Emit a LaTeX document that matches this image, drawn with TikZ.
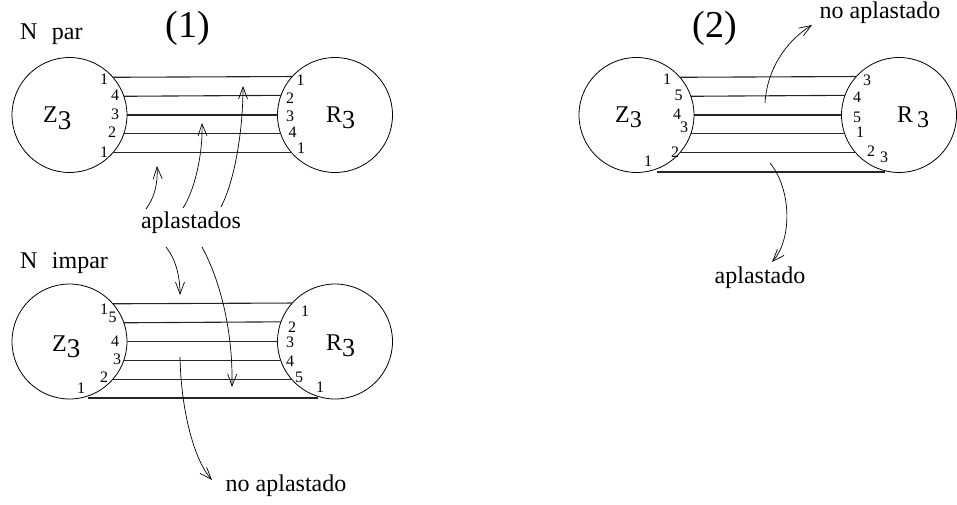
\documentclass[tikz,border=0pt]{standalone}
\usepackage{fontspec}
\setmainfont{Liberation Serif}
\usetikzlibrary{arrows.meta,calc}

\tikzset{
  rueda/.style={circle,draw,line width=0.8pt,minimum size=115pt,inner sep=0pt,outer sep=0pt},
  cuerda/.style={line width=1.1pt,black!85},
  num/.style={font=\fontsize{16}{16}\selectfont,inner sep=0pt},
  rotulo/.style={font=\fontsize{24}{24}\selectfont,inner sep=0pt,anchor=base},
  flecha/.style={-{Straight Barb[length=12pt,width=9pt]},line width=0.7pt},
}
\newcommand{\indice}[2]{\raisebox{-#1pt}{\fontsize{#2}{#2}\selectfont 3}}

\begin{document}
\begin{tikzpicture}[x=1pt,y=-1pt]
  \useasboundingbox (0,0) rectangle (957,505);
  % las tres parejas de ruedas
  \node[rueda] (Za) at (69.5,115) {};
  \node[rueda] (Ra) at (335,115) {};
  \node[rueda] (Zb) at (69.5,341.5) {};
  \node[rueda] (Rb) at (335,341.5) {};
  \node[rueda] (Zc) at (636.5,115) {};
  \node[rueda] (Rc) at (899,115) {};
  \node[rotulo,anchor=base west] (za) at (43,123) {Z\indice{7}{27}};
  \node[rotulo,anchor=base west] (ra) at (326,123) {R\indice{6}{26}};
  \node[rotulo,anchor=base west] (zb) at (52,351) {Z\indice{6}{27}};
  \node[rotulo,anchor=base west] (rb) at (326,350) {R\indice{6}{26}};
  \node[rotulo,anchor=base west] (zc) at (615,123) {Z\indice{5}{24}};
  \node[rotulo,anchor=base west] (rc) at (897,123) {R\hspace{4pt}\indice{5}{24}};
  % cuerdas entre ruedas
  \foreach \d in {38,19,0,-19,-38} {
    \pgfmathsetmacro\a{asin(\d/57.5)}
    \pgfmathsetmacro\b{180-\a}
    \draw[cuerda] (Za.\a) -- (Ra.\b);
    \draw[cuerda] (Zb.\a) -- (Rb.\b);
    \draw[cuerda] (Zc.\a) -- (Rc.\b);
  }
  \coordinate (bi) at (88,398);
  \coordinate (bd) at (318,398);
  \coordinate (ci) at (657,172);
  \coordinate (cd) at (885,172);
  \draw[cuerda] (bi) -- (bd);
  \draw[cuerda] (ci) -- (cd);
  % numeros de los dientes
  \foreach \x/\y/\t [count=\i] in {104/79/1,115/95.5/4,115/114/3,112/132/2,104/152/1,
      300.5/80/1,290/98/2,290/116/3,292.5/132/4,301/148/1,
      104/309/1,112.5/317.5/5,115/341/4,117/359/3,104/377/2,81/388/1,
      305/311/1,292/327/2,290/342.5/3,290/361.5/4,299/377.5/5,320/387/1,
      667/79/1,678.5/95/5,677/114/4,684/127/3,675/152/2,648/161/1,
      867/80/3,857/97/4,857/117/5,860/132/1,871/151/2,884/157/3}
    \node[num] (n\i) at (\x,\y) {\t};
  % textos
  \node[rotulo,anchor=base west] (par) at (20,40) {N\hspace{0.6em}par};
  \node[rotulo,anchor=base west] (impar) at (20,268) {N\hspace{0.6em}impar};
  \node[font=\fontsize{38}{38}\selectfont,inner sep=0pt] (uno) at (188,28) {(1)};
  \node[font=\fontsize{38}{38}\selectfont,inner sep=0pt] (dos) at (715,28) {(2)};
  \node[rotulo] (apl) at (191,228) {aplastados};
  \node[rotulo] (noapla) at (286,491) {no aplastado};
  \node[rotulo] (noaplc) at (880,19) {no aplastado};
  \node[rotulo] (aplc) at (760,283) {aplastado};
  % flechas
  \coordinate (s1) at (146,209);  \coordinate (t1) at (157,166);
  \coordinate (s2) at (183,208);  \coordinate (t2) at (202,123);
  \coordinate (s3) at (221,207);  \coordinate (t3) at (243,86);
  \coordinate (s4) at (166,247);  \coordinate (t4) at (180,295);
  \coordinate (s5) at (202,247);  \coordinate (t5) at (232,387);
  \coordinate (s6) at (180,357);  \coordinate (t6) at (212,480);
  \coordinate (s7) at (765,103);  \coordinate (t7) at (812,25);
  \coordinate (s8) at (770,163);  \coordinate (t8) at (772,262);
  \draw[flecha] (s1) .. controls (154,198) and (158,185) .. (t1);
  \draw[flecha] (s2) .. controls (196,188) and (203,150) .. (t2);
  \draw[flecha] (s3) .. controls (235,180) and (243,130) .. (t3);
  \draw[flecha] (s4) .. controls (175,258) and (180,275) .. (t4);
  \draw[flecha] (s5) .. controls (220,280) and (233,330) .. (t5);
  \draw[flecha] (s6) .. controls (181,410) and (194,460) .. (t6);
  \draw[flecha] (s7) .. controls (767,70) and (785,42) .. (t7);
  \draw[flecha] (s8) .. controls (792,190) and (792,240) .. (t8);
\end{tikzpicture}
\end{document}
